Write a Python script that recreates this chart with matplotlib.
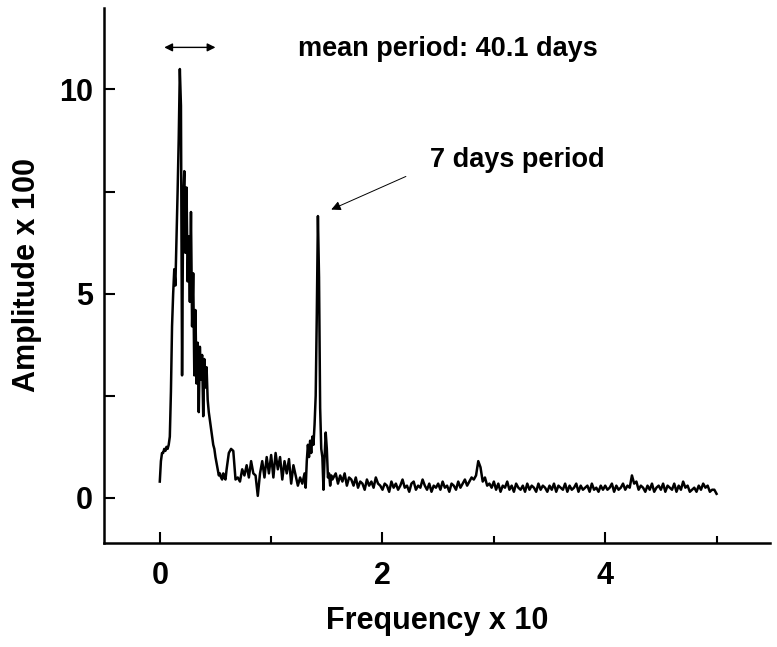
import numpy as np
import matplotlib.pyplot as plt

plt.rcParams['font.family'] = ['Liberation Sans', 'DejaVu Sans']
plt.rcParams['font.weight'] = 'bold'

# amplitude values (x 100)
# main peak region, 0.00 - 0.60, step 0.01
amp_low = [0.4, 0.9, 1.1, 1.1, 1.2, 1.15, 1.25, 1.2, 1.3, 1.5,
           2.6, 4.2, 5.0, 5.6, 5.2, 6.3, 7.5, 8.8, 10.5, 9.6,
           3.0, 7.2, 8.0, 6.0, 7.6, 5.3, 6.4, 4.8, 7.0, 4.2,
           5.5, 3.0, 4.6, 2.8, 3.8, 2.1, 3.7, 2.9, 3.5, 2.0,
           3.4, 2.7, 3.2, 2.4, 2.1, 1.9, 1.7, 1.5, 1.3, 1.2,
           1.0, 0.85, 0.7, 0.55, 0.6, 0.5, 0.45, 0.6, 0.5, 0.45,
           0.7]
# 0.62 - 1.30, step 0.02
amp_mid = [1.1, 1.2, 1.15, 0.45, 0.5, 0.4, 0.7, 0.55, 0.8, 0.5,
           0.9, 0.6, 0.55, 0.05, 0.6, 0.9, 0.5, 1.0, 0.6, 1.05,
           0.5, 1.1, 0.7, 1.0, 0.45, 0.9, 0.6, 0.95, 0.35, 0.8,
           0.55, 0.3, 0.5, 0.35, 0.6]
# 7 days peak region, 1.31 - 1.56, step 0.01
amp_week = [0.25, 0.9, 1.3, 1.0, 1.4, 1.1, 1.5, 1.3, 1.8, 2.5,
            4.5, 6.9, 5.4, 2.2, 1.2, 1.0, 0.2, 1.0, 1.6, 1.2,
            0.5, 0.6, 0.3, 0.55, 0.45, 0.5]
# background, 1.58 - 5.00, step 0.02
amp_tail = [0.6, 0.35, 0.55, 0.4, 0.6, 0.3, 0.5, 0.45, 0.3, 0.5,
            0.25, 0.4, 0.35, 0.2, 0.45, 0.3, 0.4, 0.25, 0.5, 0.35, 0.3,
            0.2, 0.35, 0.3, 0.15, 0.4, 0.25, 0.35, 0.2, 0.3, 0.45,
            0.25, 0.3, 0.15, 0.35, 0.4, 0.2, 0.3, 0.25, 0.45, 0.3,
            0.2, 0.35, 0.15, 0.3, 0.25,
            0.35, 0.2, 0.4, 0.25, 0.3, 0.15, 0.35, 0.3, 0.2, 0.4,
            0.25, 0.35, 0.45, 0.3, 0.4, 0.5, 0.45, 0.55, 0.9, 0.75,
            0.4, 0.5, 0.3, 0.35, 0.25,
            0.4, 0.2, 0.35, 0.15, 0.3, 0.25, 0.4, 0.2, 0.3, 0.15,
            0.35, 0.25, 0.2, 0.3, 0.15, 0.35, 0.2, 0.3, 0.25, 0.15,
            0.35, 0.2, 0.3, 0.25, 0.15,
            0.3, 0.2, 0.35, 0.15, 0.3, 0.25, 0.2, 0.35, 0.15, 0.3,
            0.2, 0.25, 0.35, 0.15, 0.3, 0.2, 0.25, 0.3, 0.15, 0.35,
            0.2, 0.25, 0.15, 0.3, 0.2,
            0.3, 0.2, 0.25, 0.35, 0.15, 0.3, 0.2, 0.25, 0.35, 0.2,
            0.3, 0.25, 0.55, 0.35, 0.4, 0.2, 0.3, 0.25, 0.15, 0.3,
            0.2, 0.35, 0.15, 0.25, 0.3,
            0.2, 0.35, 0.15, 0.3, 0.25, 0.2, 0.35, 0.15, 0.3, 0.2,
            0.4, 0.25, 0.3, 0.15, 0.2, 0.25, 0.15, 0.3, 0.2, 0.35,
            0.25, 0.3, 0.15, 0.2, 0.2, 0.1]

# frequency bins of each segment (start, step)
freq_low = 0.0 + 0.01 * np.arange(len(amp_low))
freq_mid = 0.62 + 0.02 * np.arange(len(amp_mid))
freq_week = 1.31 + 0.01 * np.arange(len(amp_week))
freq_tail = 1.58 + 0.02 * np.arange(len(amp_tail))

freq = np.concatenate([freq_low, freq_mid, freq_week, freq_tail])
amp = np.concatenate([amp_low, amp_mid, amp_week, amp_tail])

fig = plt.figure(figsize=(7.77, 6.47), dpi=100)
ax = fig.add_axes([0.134, 0.161, 0.857, 0.827])

ax.plot(freq, amp, color='black', lw=1.8)

ax.set_xlim(-0.5, 5.48)
ax.set_ylim(-1.1, 12.0)
ax.set_xticks([0, 2, 4])
ax.set_xticks([1, 3, 5], minor=True)
ax.set_yticks([0, 5, 10])
ax.set_yticks([2.5, 7.5], minor=True)

for side in ['top', 'right']:
    ax.spines[side].set_visible(False)
for side in ['left', 'bottom']:
    ax.spines[side].set_linewidth(1.8)

ax.tick_params(which='major', direction='in', length=8, width=1.5, labelsize=22)
ax.tick_params(which='minor', direction='in', length=5, width=1.5)
ax.tick_params(axis='x', which='major', pad=13)
ax.tick_params(axis='y', which='major', pad=8)
ax.tick_params(axis='y', which='minor', length=8)

ax.set_xlabel('Frequency x 10', fontsize=22, fontweight='bold', labelpad=11)
ax.set_ylabel('Amplitude x 100', fontsize=22, fontweight='bold', labelpad=12)

# mean period marker
ax.annotate('', xy=(0.04, 11.03), xytext=(0.5, 11.03),
            arrowprops=dict(arrowstyle='<|-|>', color='black', lw=1,
                            mutation_scale=12, shrinkA=0, shrinkB=0))
ax.text(1.24, 11.0, 'mean period: 40.1 days', fontsize=19.5,
        fontweight='bold', va='center', ha='left')

# 7 days peak marker
ax.annotate('', xy=(1.54, 7.06), xytext=(2.21, 7.87),
            arrowprops=dict(arrowstyle='-|>', color='black', lw=0.7,
                            mutation_scale=14, shrinkA=0, shrinkB=0))
ax.text(2.43, 8.28, '7 days period', fontsize=19.5,
        fontweight='bold', va='center', ha='left')

fig.savefig('out.png', dpi=100)
